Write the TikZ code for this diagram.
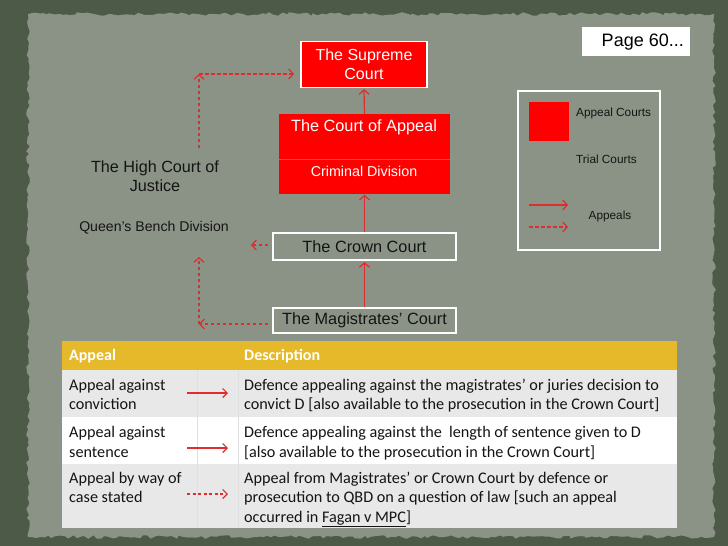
\documentclass[tikz,border=0pt]{standalone}
\usepackage{fontspec}
\setmainfont{Liberation Sans}
\newfontfamily\calfont{Carlito}
\usetikzlibrary{arrows.meta,decorations.pathmorphing}
\definecolor{frame}{RGB}{78,90,72}
\definecolor{paper}{RGB}{139,147,134}
\definecolor{courtred}{RGB}{255,0,0}
\definecolor{arrred}{RGB}{222,45,45}
\definecolor{gold}{RGB}{229,185,42}
\definecolor{rowgray}{RGB}{232,232,232}
\definecolor{ink}{RGB}{20,20,20}
\tikzset{
  courtbox/.style={rectangle,inner sep=0pt,align=center,text=white},
  trialbox/.style={rectangle,draw=white,line width=1.1pt,inner sep=0pt,text=ink},
  solidarr/.style={draw=arrred,line width=1.2pt,-{Straight Barb[length=4.5pt,width=10pt]}},
  dasharr/.style={draw=arrred,line width=1.2pt,dash pattern=on 3.5pt off 2.5pt,-{Straight Barb[length=4.5pt,width=10pt]}},
  tabarr/.style={draw=arrred,line width=1.1pt,-{Straight Barb[length=4.5pt,width=9pt]}},
  tabdash/.style={draw=arrred,line width=1.1pt,dash pattern=on 3pt off 2.5pt,-{Straight Barb[length=4.5pt,width=9pt]}},
  tabtxt/.style={anchor=base west,inner sep=0pt,font=\calfont\fontsize{16.2}{19}\selectfont,text=ink},
  tabhead/.style={anchor=base west,inner sep=0pt,font=\calfont\bfseries\fontsize{16}{19}\selectfont,text=white},
  legtxt/.style={inner sep=0pt,font=\fontsize{11.8}{14}\selectfont,text=ink},
}
\begin{document}
\begin{tikzpicture}[x=1pt,y=-1pt]
\useasboundingbox (0,0) rectangle (728,546);
% background
\fill[frame] (0,0) rectangle (728,546);
\pgfmathsetseed{7}
\fill[paper,decorate,decoration={random steps,segment length=4pt,amplitude=1.8pt}] (28,14) rectangle (714,537);

% courts
\node[courtbox,fill=courtred,draw=white,line width=1.1pt,minimum width=126pt,minimum height=46pt,
      font=\fontsize{16}{19}\selectfont] (supreme) at (364,64.5) {The Supreme\\Court};
\node[courtbox,fill=courtred,minimum width=171pt,minimum height=80pt] (coa) at (364.5,154) {};
\draw[red!75!white,line width=0.6pt] (coa.west |- 0,159) -- (coa.east |- 0,159);
\node[courtbox,font=\fontsize{16.3}{19}\selectfont] (coatitle) at (364,127) {The Court of Appeal};
\node[courtbox,font=\fontsize{14.3}{16}\selectfont] (coadiv) at (364,171) {Criminal Division};
\node[trialbox,minimum width=183pt,minimum height=27pt,font=\fontsize{16.3}{19}\selectfont] (crown) at (364.5,246.5) {The Crown Court};
\node[trialbox,minimum width=183pt,minimum height=25pt,font=\fontsize{16.3}{19}\selectfont] (mag) at (364.5,320.5) {The Magistrates’ Court};

\node[align=center,inner sep=0pt,text=ink,font=\fontsize{16.2}{19}\selectfont] (high) at (155,176) {The High Court of\\Justice};
\node[inner sep=0pt,text=ink,font=\fontsize{14.1}{16}\selectfont] (qbd) at (154,228) {Queen’s Bench Division};

% solid appeals
\draw[solidarr] (mag.north) -- ([yshift=-1.5pt]crown.south);
\draw[solidarr] (crown.north) -- ([yshift=-0.5pt]coa.south);
\draw[solidarr] (coa.north) -- ([yshift=-1pt]supreme.south);

% dashed appeals
\coordinate (hcTop) at (199,148);
\coordinate (c1) at (199,74);
\coordinate (c1end) at (294,74);
\draw[dasharr] (hcTop) -- (c1);
\draw[dasharr] (c1) -- (c1end);
\coordinate (crownL) at (268,245);
\coordinate (crownArr) at (251,245);
\draw[dasharr] (crownL) -- (crownArr);
\coordinate (magL) at (268,324);
\coordinate (c2) at (199,324);
\coordinate (c3) at (199,257);
\draw[dasharr] (magL) -- (c2);
\draw[dasharr] (c2) -- (c3);

% legend
\node[rectangle,draw=white,line width=1.1pt,minimum width=142pt,minimum height=159pt,inner sep=0pt] (legend) at (589,170.5) {};
\node[rectangle,fill=courtred,minimum width=40pt,minimum height=39pt,inner sep=0pt] (legsq) at (549,121.5) {};
\node[legtxt,anchor=west] (legA) at (576,113) {Appeal Courts};
\node[legtxt,anchor=west] (legT) at (576,159) {Trial Courts};
\node[legtxt] (legP) at (610,216) {Appeals};
\coordinate (ls1) at (529,205); \coordinate (le1) at (568,205);
\coordinate (ls2) at (529,227); \coordinate (le2) at (568,227);
\draw[solidarr] (ls1) -- (le1);
\draw[dasharr] (ls2) -- (le2);

% page label
\node[rectangle,fill=white,minimum width=108pt,minimum height=29pt,inner sep=0pt] (pagebox) at (636,41.5) {};
\node[anchor=east,inner sep=0pt,text=black,font=\fontsize{18}{21}\selectfont] (pagetxt) at (684,42) {Page 60...};

% table
\fill[gold] (62,341) rectangle (677,370);
\fill[rowgray] (62,370) rectangle (677,417);
\fill[white] (62,417) rectangle (677,463);
\fill[rowgray] (62,463) rectangle (677,528);
\draw[white,line width=0.8pt] (62,417) -- (677,417) (62,463) -- (677,463);
\draw[gray!25,line width=0.6pt] (197,370) -- (197,528) (238,370) -- (238,528);

\node[tabhead] (h1) at (69,360.5) {Appeal};
\node[tabhead] (h2) at (244,360.5) {Description};

\node[tabtxt] (r1a) at (69,390) {Appeal against};
\node[tabtxt] (r1b) at (69,409.5) {conviction};
\node[tabtxt] (d1a) at (244,390) {Defence appealing against the magistrates’ or juries decision to};
\node[tabtxt] (d1b) at (244,409.5) {convict D [also available to the prosecution in the Crown Court]};

\node[tabtxt] (r2a) at (69,437) {Appeal against};
\node[tabtxt] (r2b) at (69,457) {sentence};
\node[tabtxt] (d2a) at (244,437) {Defence appealing against the \ length of sentence given to D};
\node[tabtxt] (d2b) at (244,457) {[also available to the prosecution in the Crown Court]};

\node[tabtxt] (r3a) at (69,483) {Appeal by way of};
\node[tabtxt] (r3b) at (69,502.5) {case stated};
\node[tabtxt] (d3a) at (244,483) {Appeal from Magistrates’ or Crown Court by defence or};
\node[tabtxt] (d3b) at (244,502.5) {prosecution to QBD on a question of law [such an appeal};
\node[tabtxt] (d3c) at (244,522) {occurred in \underline{Fagan v MPC}]};

\coordinate (t1s) at (187,393); \coordinate (t1e) at (228,393);
\coordinate (t2s) at (187,448); \coordinate (t2e) at (228,448);
\coordinate (t3s) at (187,494); \coordinate (t3e) at (228,494);
\draw[tabarr] (t1s) -- (t1e);
\draw[tabarr] (t2s) -- (t2e);
\draw[tabdash] (t3s) -- (t3e);
\end{tikzpicture}
\end{document}
